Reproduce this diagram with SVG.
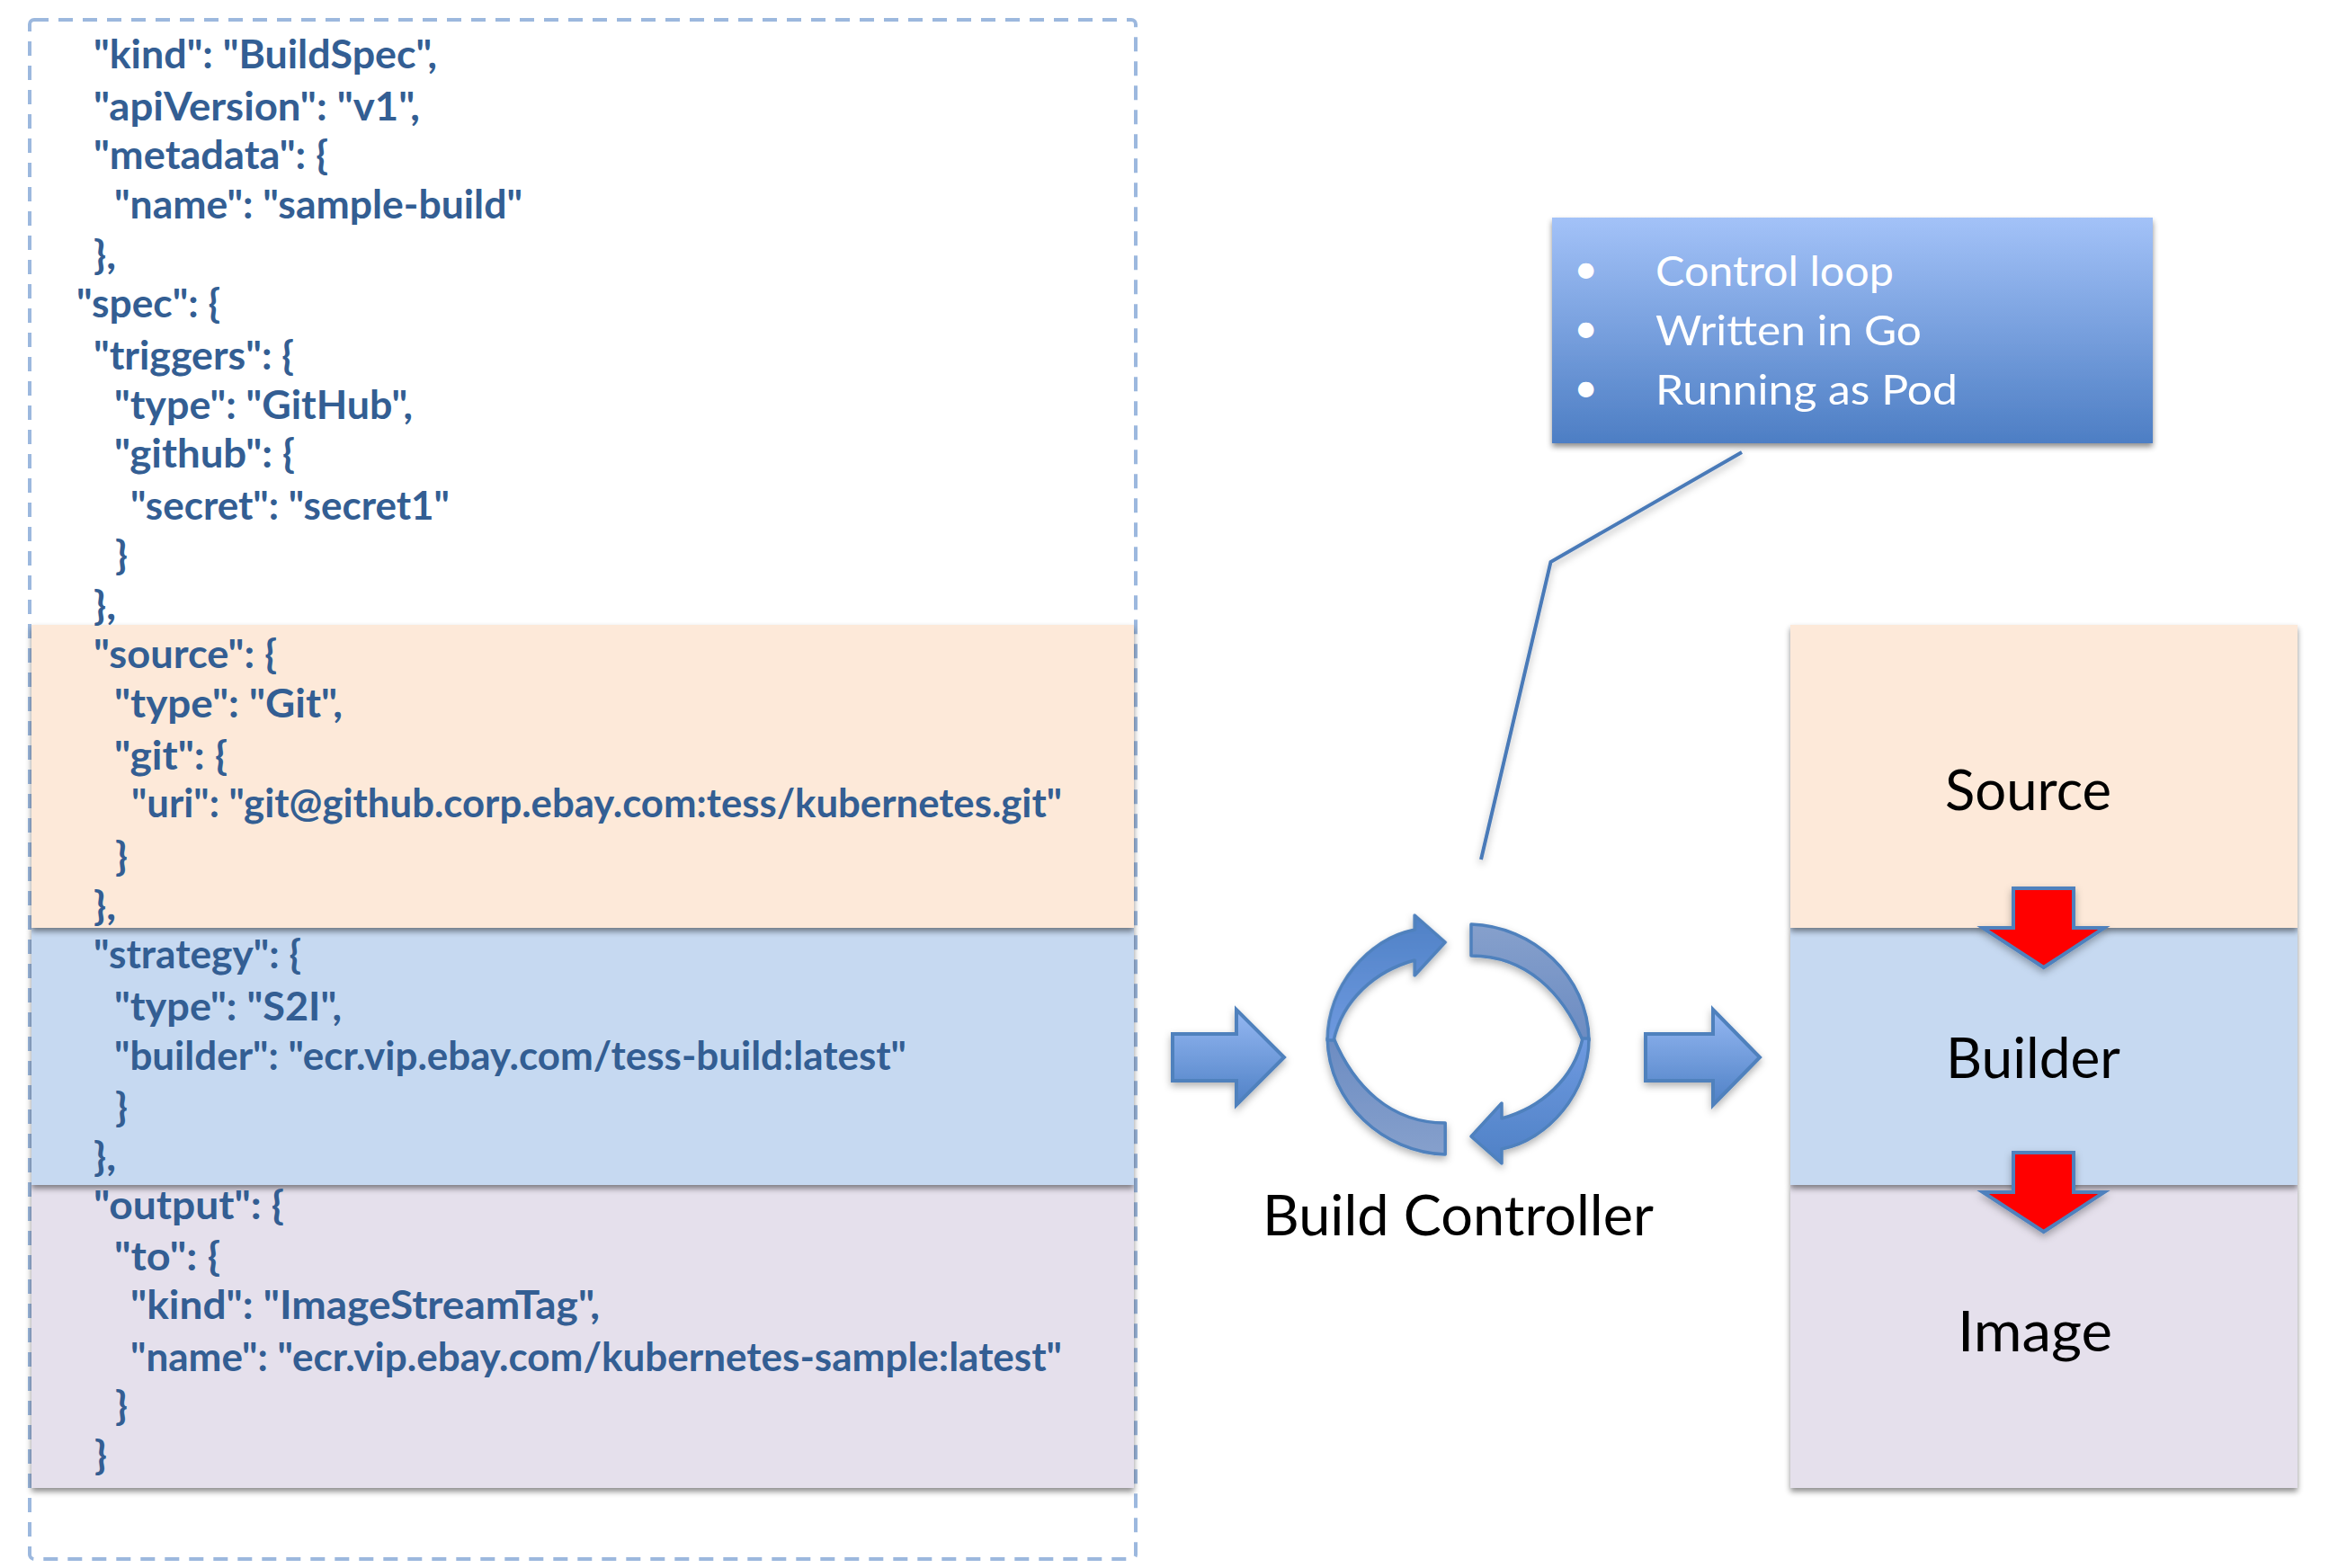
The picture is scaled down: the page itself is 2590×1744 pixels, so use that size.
<svg xmlns="http://www.w3.org/2000/svg" width="2590" height="1744" viewBox="0 0 2590 1744">
<style>
.c{font-family:Lato,"Open Sans","Liberation Sans",sans-serif;font-size:44px;font-weight:700;fill:#335e93}
.l{font-family:Lato,"Open Sans","Liberation Sans",sans-serif;font-size:62px;fill:#000}
.w{font-family:Lato,"Open Sans","Liberation Sans",sans-serif;font-size:47px;font-weight:400;fill:#fff}
.b{fill:url(#g2);stroke:#4f81bd;stroke-width:4}
.r{fill:#f00;stroke:#4f81bd;stroke-width:4}
.src{fill:#fde9d9}.bld{fill:#c6d9f1}.img{fill:#e5e0ec}
</style>
<defs>
<linearGradient id="g1" x1="0" y1="0" x2="0" y2="1"><stop offset="0" stop-color="#a3c2f8"/><stop offset="1" stop-color="#4d7ec4"/></linearGradient>
<linearGradient id="g2" x1="0" y1="0" x2="0" y2="1"><stop offset="0" stop-color="#95b8f2"/><stop offset="1" stop-color="#4f81c6"/></linearGradient>
<linearGradient id="g4" x1="0" y1="0" x2="0" y2="1"><stop offset="0" stop-color="#6f9ae0"/><stop offset="1" stop-color="#4f81c6"/></linearGradient>
<linearGradient id="g3" x1="0" y1="0" x2="0" y2="1"><stop offset="0" stop-color="#86a0cc"/><stop offset="1" stop-color="#6c8cc2"/></linearGradient>
<filter id="s" x="-5%" y="-5%" width="110%" height="115%"><feDropShadow dx="0" dy="4" stdDeviation="3" flood-color="#000" flood-opacity=".45"/></filter>
<filter id="s2" x="-20%" y="-20%" width="140%" height="140%"><feDropShadow dx="0" dy="4" stdDeviation="4" flood-color="#000" flood-opacity=".3"/></filter>
<path id="grayArc" d="M1636,1028 C1704,1030 1766,1085 1767,1157 L1760,1157 C1738,1105 1698,1063 1636,1063 Z"/>
<path id="blueArc" d="M1767,1155 C1767,1215 1722,1268 1670,1278 L1670,1294 L1636,1264 L1670,1227 L1670,1244 C1714,1232 1750,1200 1760,1155 Z"/>
</defs>
<rect width="2590" height="1744" fill="#fff"/>
<rect id="spec-frame" x="33" y="22" width="1230" height="1712" rx="5" fill="none" stroke="#9cb8de" stroke-width="4" stroke-dasharray="16 11"/>
<g id="spec-bands">
<rect class="img" x="35" y="1318" width="1226" height="337" filter="url(#s)"/>
<rect class="bld" x="35" y="1032" width="1226" height="286" filter="url(#s)"/>
<rect class="src" x="35" y="695" width="1226" height="337" filter="url(#s)"/>
</g>
<g id="spec-text" transform="translate(0 1)">
<text class="c" x="104" y="75" textLength="382" lengthAdjust="spacingAndGlyphs">"kind": "BuildSpec",</text>
<text class="c" x="104" y="133" textLength="363" lengthAdjust="spacingAndGlyphs">"apiVersion":  "v1",</text>
<text class="c" x="104" y="187" textLength="261" lengthAdjust="spacingAndGlyphs">"metadata": {</text>
<text class="c" x="127" y="242" textLength="454" lengthAdjust="spacingAndGlyphs">"name": "sample-build"</text>
<text class="c" x="104" y="298" textLength="25" lengthAdjust="spacingAndGlyphs">},</text>
<text class="c" x="85" y="352" textLength="160" lengthAdjust="spacingAndGlyphs">"spec": {</text>
<text class="c" x="104" y="410" textLength="223" lengthAdjust="spacingAndGlyphs">"triggers": {</text>
<text class="c" x="127" y="465" textLength="332" lengthAdjust="spacingAndGlyphs">"type": "GitHub",</text>
<text class="c" x="127" y="519" textLength="201" lengthAdjust="spacingAndGlyphs">"github": {</text>
<text class="c" x="145" y="577" textLength="355" lengthAdjust="spacingAndGlyphs">"secret": "secret1"</text>
<text class="c" x="128" y="632" textLength="14" lengthAdjust="spacingAndGlyphs">}</text>
<text class="c" x="104" y="688" textLength="25" lengthAdjust="spacingAndGlyphs">},</text>
<text class="c" x="104" y="742" textLength="204" lengthAdjust="spacingAndGlyphs">"source": {</text>
<text class="c" x="127" y="797" textLength="254" lengthAdjust="spacingAndGlyphs">"type": "Git",</text>
<text class="c" x="127" y="855" textLength="126" lengthAdjust="spacingAndGlyphs">"git": {</text>
<text class="c" x="146" y="908" textLength="1035" lengthAdjust="spacingAndGlyphs">"uri": "git@github.corp.ebay.com:tess/kubernetes.git"</text>
<text class="c" x="128" y="967" textLength="14" lengthAdjust="spacingAndGlyphs">}</text>
<text class="c" x="104" y="1022" textLength="25" lengthAdjust="spacingAndGlyphs">},</text>
<text class="c" x="104" y="1076" textLength="231" lengthAdjust="spacingAndGlyphs">"strategy": {</text>
<text class="c" x="127" y="1134" textLength="253" lengthAdjust="spacingAndGlyphs">"type": "S2I",</text>
<text class="c" x="127" y="1189" textLength="881" lengthAdjust="spacingAndGlyphs">"builder":  "ecr.vip.ebay.com/tess-build:latest"</text>
<text class="c" x="128" y="1246" textLength="14" lengthAdjust="spacingAndGlyphs">}</text>
<text class="c" x="104" y="1301" textLength="25" lengthAdjust="spacingAndGlyphs">},</text>
<text class="c" x="104" y="1355" textLength="212" lengthAdjust="spacingAndGlyphs">"output":  {</text>
<text class="c" x="127" y="1412" textLength="118" lengthAdjust="spacingAndGlyphs">"to": {</text>
<text class="c" x="145" y="1466" textLength="522" lengthAdjust="spacingAndGlyphs">"kind": "ImageStreamTag",</text>
<text class="c" x="145" y="1524" textLength="1036" lengthAdjust="spacingAndGlyphs">"name": "ecr.vip.ebay.com/kubernetes-sample:latest"</text>
<text class="c" x="128" y="1578" textLength="14" lengthAdjust="spacingAndGlyphs">}</text>
<text class="c" x="105" y="1633" textLength="14" lengthAdjust="spacingAndGlyphs">}</text>
</g>
<g id="image"><rect class="img" x="1991" y="1318" width="564" height="337" filter="url(#s)"/><text class="l" x="2177" y="1503" textLength="172" lengthAdjust="spacingAndGlyphs">Image</text></g>
<g id="builder"><rect class="bld" x="1991" y="1032" width="564" height="286" filter="url(#s)"/><text class="l" x="2164" y="1199" textLength="194" lengthAdjust="spacingAndGlyphs">Builder</text></g>
<g id="source"><rect class="src" x="1991" y="695" width="564" height="337" filter="url(#s)"/><text class="l" x="2163" y="901" textLength="185" lengthAdjust="spacingAndGlyphs">Source</text></g>
<g id="connectors">
<g filter="url(#s2)">
<polyline points="1937,503 1724.5,625 1647,956" fill="none" stroke="#4a7ab8" stroke-width="4"/>
</g>
<g filter="url(#s2)">
<path class="b" d="M1304,1150 H1375 V1123 L1428,1176 L1375,1229 V1202 H1304 Z"/>
<path class="b" d="M1830,1150 H1905 V1123 L1957,1176 L1905,1229 V1202 H1830 Z"/>
</g>
<g filter="url(#s2)">
<path class="r" d="M2239,988 H2306 V1032 H2340 L2272.7,1076 L2205,1032 H2239 Z"/>
<path class="r" d="M2239,1282 H2306 V1326 H2340 L2272.7,1370 L2205,1326 H2239 Z"/>
</g>
</g>
<g id="build-controller">
<g filter="url(#s2)" stroke="#4f81bd" stroke-width="3.5" stroke-linejoin="round">
<use href="#grayArc" fill="url(#g3)"/>
<use href="#grayArc" fill="url(#g3)" transform="rotate(180 1621.6 1156)"/>
<use href="#blueArc" fill="url(#g4)"/>
<use href="#blueArc" fill="url(#g4)" transform="rotate(180 1621.6 1156)"/>
</g>
<text class="l" x="1404" y="1374" textLength="435" lengthAdjust="spacingAndGlyphs">Build Controller</text>
</g>
<g id="callout">
<rect x="1726" y="242" width="668" height="251" fill="url(#g1)" filter="url(#s)"/>
<text class="w" x="1750" y="315">•</text>
<text class="w" x="1750" y="381">•</text>
<text class="w" x="1750" y="447">•</text>
<text class="w" x="1841" y="318" textLength="265" lengthAdjust="spacingAndGlyphs">Control loop</text>
<text class="w" x="1841" y="384" textLength="296" lengthAdjust="spacingAndGlyphs">Written in Go</text>
<text class="w" x="1841" y="450" textLength="336" lengthAdjust="spacingAndGlyphs">Running as Pod</text>
</g>
</svg>
